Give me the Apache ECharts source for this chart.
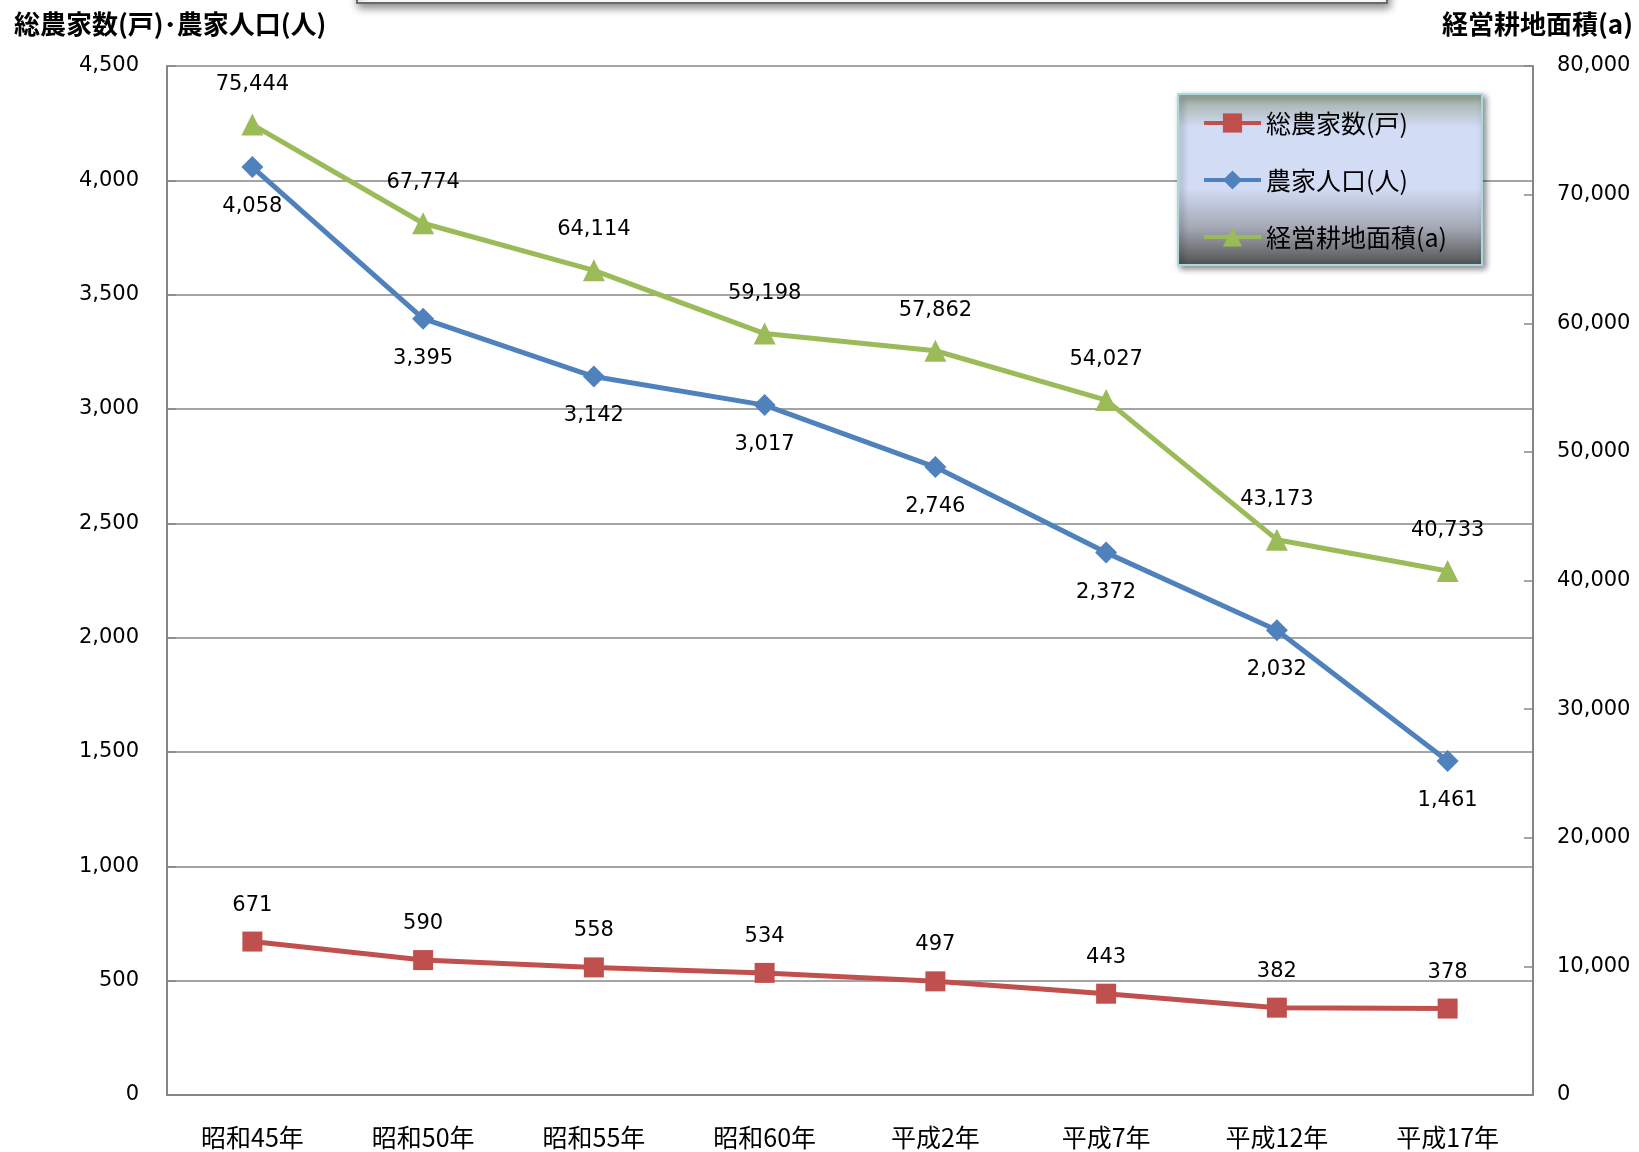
<!DOCTYPE html>
<html>
<head>
<meta charset="utf-8">
<script src="https://cdn.jsdelivr.net/npm/echarts@6/dist/echarts.min.js"></script>
<style>
html,body{margin:0;padding:0;background:#fff;}
#c{width:1639px;height:1152px;}
</style>
</head>
<body>
<div id="c"></div>
<script>
const categories = ['昭和45年','昭和50年','昭和55年','昭和60年','平成2年','平成7年','平成12年','平成17年'];
const households = [671, 590, 558, 534, 497, 443, 382, 378];
const population = [4058, 3395, 3142, 3017, 2746, 2372, 2032, 1461];
const area = [75444, 67774, 64114, 59198, 57862, 54027, 43173, 40733];
const leftTitle = '総農家数(戸)･農家人口(人)';
const rightTitle = '経営耕地面積(a)';

const FONT = '"Noto Sans CJK JP", "Noto Sans", sans-serif';
const NUMFONT = '"DejaVu Sans", "Noto Sans CJK JP", sans-serif';
const fmt = v => v.toLocaleString('en-US');
const chart = echarts.init(document.getElementById('c'));

function labelCfg(pos, dist) {
  return {show: true, position: pos, distance: dist, color: '#000', fontSize: 21, fontFamily: NUMFONT,
    formatter: p => fmt(p.value)};
}

chart.setOption({
  animation: false,
  backgroundColor: '#fff',
  textStyle: {fontFamily: FONT},
  grid: {left: 167, right: 106, top: 66, bottom: 57, containLabel: false},
  graphic: [
    {type: 'rect', z: 0, shape: {x: 357, y: -30, width: 1030, height: 33},
      style: {fill: '#fff', stroke: '#6a6a6a', lineWidth: 2, shadowBlur: 8, shadowOffsetY: 4, shadowOffsetX: 2, shadowColor: 'rgba(0,0,0,0.45)'}},
    {type: 'text', left: 14, top: 11, z: 10,
      style: {text: leftTitle, fontSize: 26, fontWeight: 'bold', fill: '#000', fontFamily: FONT}},
    {type: 'text', right: 6, top: 11, z: 10,
      style: {text: rightTitle, fontSize: 26, fontWeight: 'bold', fill: '#000', fontFamily: FONT}},
    {type: 'rect', z: 3, shape: {x: 1178, y: 94, width: 304, height: 171},
      style: {
        fill: new echarts.graphic.LinearGradient(0, 0, 0, 1, [
          {offset: 0, color: '#98a898'},
          {offset: 0.2, color: '#d3dcf5'},
          {offset: 0.55, color: '#d3dcf5'},
          {offset: 0.78, color: '#a4a8b4'},
          {offset: 1, color: '#505050'}
        ]),
        stroke: '#a8d8e0', lineWidth: 2,
        shadowBlur: 6, shadowOffsetX: 3, shadowOffsetY: 3, shadowColor: 'rgba(0,0,0,0.45)'
      }}
  ],
  legend: {
    orient: 'vertical', left: 1197, top: 105, z: 5,
    itemWidth: 57, itemHeight: 24, itemGap: 31,
    lineStyle: {width: 4},
    textStyle: {fontSize: 25, color: '#000', fontFamily: FONT, lineHeight: 26},
    data: ['総農家数(戸)', '農家人口(人)', '経営耕地面積(a)']
  },
  xAxis: {
    type: 'category', data: categories, boundaryGap: true,
    axisLine: {lineStyle: {color: '#868686', width: 2}},
    axisTick: {inside: true, length: 9, interval: 0, lineStyle: {color: '#868686', width: 1.5}},
    axisLabel: {fontSize: 25, color: '#000', margin: 30, fontFamily: FONT, interval: 0},
    splitLine: {show: false}
  },
  yAxis: [
    {type: 'value', min: 0, max: 4500, interval: 500, position: 'left',
      axisLine: {show: true, lineStyle: {color: '#868686', width: 2}},
      axisTick: {show: true, inside: true, length: 9, lineStyle: {color: '#868686', width: 1.5}},
      axisLabel: {fontSize: 21, color: '#000', margin: 28, fontFamily: NUMFONT, formatter: v => fmt(v)},
      splitLine: {show: true, lineStyle: {color: '#868686', width: 1.5}}},
    {type: 'value', min: 0, max: 80000, interval: 10000, position: 'right',
      axisLine: {show: true, lineStyle: {color: '#868686', width: 2}},
      axisTick: {show: true, inside: true, length: 9, lineStyle: {color: '#868686', width: 1.5}},
      axisLabel: {fontSize: 21, color: '#000', margin: 24, fontFamily: NUMFONT, formatter: v => fmt(v)},
      splitLine: {show: false}}
  ],
  series: [
    {name: '総農家数(戸)', type: 'line', yAxisIndex: 0, data: households,
      symbol: 'rect', symbolSize: 20, lineStyle: {color: '#c0504d', width: 5},
      itemStyle: {color: '#c0504d'}, label: labelCfg('top', 16), z: 3},
    {name: '農家人口(人)', type: 'line', yAxisIndex: 0, data: population,
      symbol: 'diamond', symbolSize: 22, lineStyle: {color: '#4f81bd', width: 5},
      itemStyle: {color: '#4f81bd'}, label: labelCfg('bottom', 18), z: 3},
    {name: '経営耕地面積(a)', type: 'line', yAxisIndex: 1, data: area,
      symbol: 'triangle', symbolSize: 22, lineStyle: {color: '#9bbb59', width: 5},
      itemStyle: {color: '#9bbb59'}, label: labelCfg('top', 19), z: 3}
  ]
});
</script>
</body>
</html>
